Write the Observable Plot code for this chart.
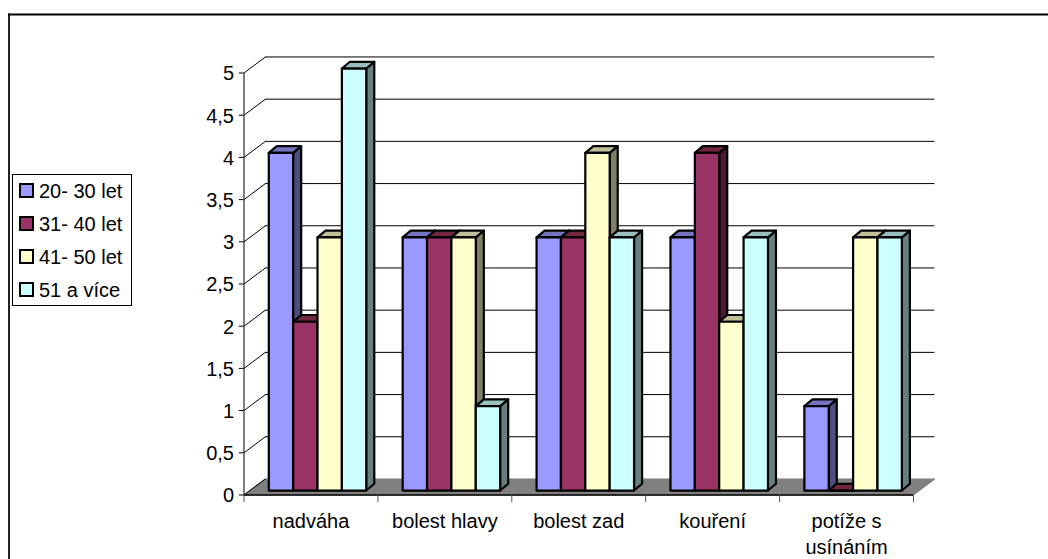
<!DOCTYPE html>
<html lang="cs">
<head>
<meta charset="utf-8">
<script src="https://cdn.jsdelivr.net/npm/d3@7"></script>
<script src="https://cdn.jsdelivr.net/npm/@observablehq/plot@0.6"></script>
<style>
  html, body { margin: 0; padding: 0; background: #fff; }
  #chart { position: relative; width: 1048px; height: 559px; overflow: hidden; font-family: "Liberation Sans", Arial, sans-serif; }
  #chart svg { position: absolute; left: 0; top: 0; }
  .legend { position: absolute; left: 11.5px; top: 174px; width: 120px; height: 132px; box-sizing: border-box; border: 1px solid #000; background: #fff; }
  .legend div { position: absolute; left: 26.5px; font-size: 20px; line-height: 22px; white-space: nowrap; color: #000; }
  .legend i { position: absolute; left: -20px; top: 3px; width: 11px; height: 11px; border: 2px solid #000; }
</style>
</head>
<body>
<div id="chart"></div>
<script>
// Survey answers per age group
const categories = ["nadváha", "bolest hlavy", "bolest zad", "kouření", "potíže s\nusínáním"];
const groups = ["20- 30 let", "31- 40 let", "41- 50 let", "51 a více"];
const values20 = [4, 3, 3, 3, 1];
const values31 = [2, 3, 3, 4, 0];
const values41 = [3, 3, 4, 2, 3];
const values51 = [5, 1, 3, 3, 3];
const series = [values20, values31, values41, values51];
const yTicks = [0, 0.5, 1, 1.5, 2, 2.5, 3, 3.5, 4, 4.5, 5];

// Face colours of the extruded columns
const frontColors = ["#9999ff", "#993366", "#ffffcc", "#ccffff"];
const sideColors = ["#4d4d80", "#4d1a33", "#808066", "#668080"];
const topColors = ["#7373bf", "#732640", "#bfbf99", "#99bfbf"];

// Oblique projection, in axis units: wall depth, column inset and column depth
const wallX = 0.16, wallY = 0.19;
const insetX = 0.185, insetY = 0.053;
const barW = 0.182, depthX = 0.06, depthY = 0.08;

const faces = [];
categories.forEach((_, c) => {
  series.forEach((s, g) => {
    const v = s[c];
    const x0 = c + insetX + g * barW, x1 = x0 + barW;
    const y0 = insetY, y1 = v + insetY;
    const poly = (kind, color, pts) => pts.forEach(([x, y]) => faces.push({id: `${c}-${g}-${kind}`, x, y, color}));
    poly("side", sideColors[g], [[x1, y0], [x1 + depthX, y0 + depthY], [x1 + depthX, y1 + depthY], [x1, y1]]);
    poly("top", topColors[g], [[x0, y1], [x1, y1], [x1 + depthX, y1 + depthY], [x0 + depthX, y1 + depthY]]);
    poly("front", frontColors[g], [[x0, y0], [x1, y0], [x1, y1], [x0, y1]]);
  });
});

const n = categories.length;
const floor = [[0, 0], [n, 0], [n + wallX, wallY], [wallX, wallY]].map(([x, y]) => ({x, y}));

const plot = Plot.plot({
  width: 1048,
  height: 559,
  marginLeft: 8.5,
  marginTop: 14,
  marginRight: 0,
  marginBottom: 0,
  x: {domain: [0, n], range: [243.5, 913], axis: null},
  y: {domain: [0, 5], range: [494.5, 72.5], axis: null},
  marks: [
    Plot.frame({anchor: "left", stroke: "#222", strokeWidth: 2}),
    Plot.frame({anchor: "top", stroke: "#000", strokeWidth: 2}),
    // back wall grid and its return along the left wall
    Plot.ruleY(yTicks.slice(1), {y: d => d + wallY, x1: wallX, x2: n + wallX, stroke: "#000", strokeWidth: 1}),
    Plot.link(yTicks.slice(1), {x1: 0, y1: d => d, x2: wallX, y2: d => d + wallY, stroke: "#000", strokeWidth: 1}),
    // floor
    Plot.line(floor, {x: "x", y: "y", curve: "linear-closed", fill: "#808080", stroke: "#808080", strokeWidth: 1}),
    Plot.ruleY([0], {x1: 0, x2: n, stroke: "#000", strokeWidth: 1.5}),
    Plot.link([0], {x1: 0, y1: 0, x2: wallX, y2: wallY, stroke: "#000", strokeWidth: 1}),
    // axes
    Plot.ruleX([0], {y1: 0, y2: 5, stroke: "#000", strokeWidth: 1}),
    Plot.ruleY(yTicks, {x1: -0.035, x2: 0, stroke: "#000", strokeWidth: 1}),
    Plot.ruleX(d3.range(n + 1), {y1: 0, y2: -0.09, stroke: "#555", strokeWidth: 1}),
    Plot.text(yTicks, {
      x: () => 0, y: d => d, text: d => String(d).replace(".", ","),
      textAnchor: "end", dx: -10, dy: 1, fontSize: 20, fill: "#000", fontFamily: "Liberation Sans"
    }),
    Plot.text(categories, {
      x: (_, i) => i + 0.5, y: () => 0, text: d => d,
      lineAnchor: "top", dy: 15, lineHeight: 1.3, fontSize: 20, fill: "#000", fontFamily: "Liberation Sans"
    }),
    // columns
    Plot.line(faces, {
      x: "x", y: "y", z: "id", fill: "color", curve: "linear-closed",
      stroke: "#000", strokeWidth: 2.2, strokeLinejoin: "round"
    })
  ]
});

const chart = document.getElementById("chart");
chart.appendChild(plot);

// Legend box
const legend = document.createElement("div");
legend.className = "legend";
groups.forEach((g, i) => {
  const row = document.createElement("div");
  row.style.top = `${5 + i * 33}px`;
  const swatch = document.createElement("i");
  swatch.style.background = frontColors[i];
  row.appendChild(swatch);
  row.appendChild(document.createTextNode(g));
  legend.appendChild(row);
});
chart.appendChild(legend);
</script>
</body>
</html>
